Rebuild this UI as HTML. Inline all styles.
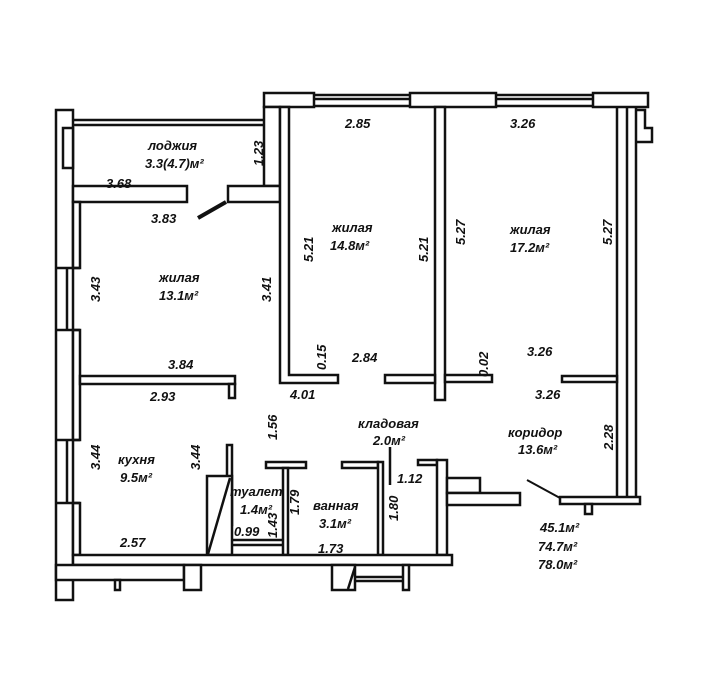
<!DOCTYPE html>
<html><head><meta charset="utf-8"><style>
html,body{margin:0;padding:0;background:#fff;}
svg{display:block}
text{font-family:"Liberation Sans",sans-serif;font-style:italic;font-size:13px;fill:#111;}
</style></head><body>
<svg width="720" height="689" viewBox="0 0 720 689" xmlns="http://www.w3.org/2000/svg">
<g fill="#fff" stroke="#111" stroke-width="2.5">
<!-- top wall right block -->
<rect x="264" y="93" width="50" height="14"/>
<rect x="410" y="93" width="86" height="14"/>
<rect x="593" y="93" width="55" height="14"/>
<line x1="314" y1="95" x2="410" y2="95"/><line x1="314" y1="99" x2="410" y2="99"/><line x1="314" y1="106" x2="410" y2="106"/>
<line x1="496" y1="95" x2="593" y2="95"/><line x1="496" y1="99" x2="593" y2="99"/><line x1="496" y1="106" x2="593" y2="106"/>
<!-- right exterior triple -->
<line x1="617" y1="107" x2="617" y2="497"/><line x1="627" y1="107" x2="627" y2="497"/><line x1="636" y1="107" x2="636" y2="497"/>
<polyline points="636,110 645,110 645,128 652,128 652,142 636,142" fill="none"/>
<!-- loggia -->
<rect x="56" y="110" width="17" height="490"/>
<line x1="73" y1="120" x2="264" y2="120"/><line x1="73" y1="125" x2="264" y2="125"/>
<rect x="63" y="128" width="10" height="40"/>
<rect x="264" y="107" width="16" height="79"/>
<rect x="73" y="186" width="114" height="16"/>
<rect x="228" y="186" width="52" height="16"/>
<!-- left room wall -->
<rect x="73" y="202" width="7" height="66"/>
<rect x="73" y="330" width="7" height="110"/>
<rect x="73" y="503" width="7" height="52"/>
<line x1="56" y1="268" x2="80" y2="268"/><line x1="56" y1="330" x2="80" y2="330"/>
<line x1="56" y1="440" x2="80" y2="440"/><line x1="56" y1="503" x2="80" y2="503"/>
<line x1="67" y1="268" x2="67" y2="330"/><line x1="67" y1="440" x2="67" y2="503"/>
<!-- interior walls -->
<polygon points="280,107 289,107 289,375 338,375 338,383 280,383"/>
<rect x="80" y="376" width="155" height="8"/>
<rect x="229" y="384" width="6" height="14"/>
<rect x="435" y="107" width="10" height="293"/>
<rect x="385" y="375" width="50" height="8"/>
<rect x="445" y="375" width="47" height="7"/>
<rect x="562" y="376" width="55" height="6"/>
<!-- corridor bottom -->
<rect x="560" y="497" width="80" height="7"/>
<rect x="585" y="504" width="7" height="10"/>
<!-- kitchen / toilet -->
<rect x="227" y="445" width="5" height="80"/>
<rect x="207" y="476" width="25" height="79"/>
<line x1="208" y1="554" x2="230" y2="478"/>
<rect x="266" y="462" width="40" height="6"/>
<rect x="283" y="468" width="5" height="87"/>
<line x1="232" y1="540" x2="283" y2="540"/><line x1="232" y1="545" x2="283" y2="545"/>
<rect x="342" y="462" width="36" height="6"/>
<rect x="378" y="462" width="5" height="93"/>
<rect x="418" y="460" width="19" height="5"/>
<rect x="437" y="460" width="10" height="95"/>
<line x1="390" y1="447" x2="390" y2="485"/>
<rect x="447" y="478" width="33" height="15"/>
<rect x="447" y="493" width="73" height="12"/>
<!-- bottom wall -->
<rect x="73" y="555" width="379" height="10"/>
<rect x="56" y="565" width="128" height="15"/>
<rect x="184" y="565" width="17" height="25"/>
<rect x="332" y="565" width="23" height="25"/>
<line x1="348" y1="589" x2="355" y2="567"/>
<rect x="115" y="580" width="5" height="10"/>
<line x1="355" y1="577" x2="403" y2="577"/><line x1="355" y1="581" x2="403" y2="581"/>
<rect x="403" y="565" width="6" height="25"/>
</g>
<g stroke="#111" stroke-width="4"><line x1="198" y1="218" x2="226" y2="202"/><line x1="527" y1="480" x2="560" y2="498" stroke-width="2"/></g>
<g font-weight="bold">
<text x="148" y="150">лоджия</text>
<text x="145" y="168">3.3(4.7)м²</text>
<text x="106" y="188">3.68</text>
<text x="151" y="223">3.83</text>
<text x="159" y="282">жилая</text>
<text x="159" y="300">13.1м²</text>
<text x="168" y="369">3.84</text>
<text x="150" y="401">2.93</text>
<text x="332" y="232">жилая</text>
<text x="330" y="250">14.8м²</text>
<text x="345" y="128">2.85</text>
<text x="510" y="128">3.26</text>
<text x="510" y="234">жилая</text>
<text x="510" y="252">17.2м²</text>
<text x="352" y="362">2.84</text>
<text x="290" y="399">4.01</text>
<text x="527" y="356">3.26</text>
<text x="535" y="399">3.26</text>
<text x="118" y="464">кухня</text>
<text x="120" y="482">9.5м²</text>
<text x="120" y="547">2.57</text>
<text x="230" y="496">туалет</text>
<text x="240" y="514">1.4м²</text>
<text x="234" y="536">0.99</text>
<text x="313" y="510">ванная</text>
<text x="319" y="528">3.1м²</text>
<text x="318" y="553">1.73</text>
<text x="358" y="428">кладовая</text>
<text x="373" y="445">2.0м²</text>
<text x="397" y="483">1.12</text>
<text x="508" y="437">коридор</text>
<text x="518" y="454">13.6м²</text>
<text x="540" y="532">45.1м²</text>
<text x="538" y="551">74.7м²</text>
<text x="538" y="569">78.0м²</text>
</g>
<g font-weight="bold">
<text transform="translate(263,166) rotate(-90)">1.23</text>
<text transform="translate(313,262) rotate(-90)">5.21</text>
<text transform="translate(428,262) rotate(-90)">5.21</text>
<text transform="translate(465,245) rotate(-90)">5.27</text>
<text transform="translate(612,245) rotate(-90)">5.27</text>
<text transform="translate(100,302) rotate(-90)">3.43</text>
<text transform="translate(271,302) rotate(-90)">3.41</text>
<text transform="translate(326,370) rotate(-90)">0.15</text>
<text transform="translate(488,377) rotate(-90)">0.02</text>
<text transform="translate(277,440) rotate(-90)">1.56</text>
<text transform="translate(100,470) rotate(-90)">3.44</text>
<text transform="translate(200,470) rotate(-90)">3.44</text>
<text transform="translate(299,515) rotate(-90)">1.79</text>
<text transform="translate(277,538) rotate(-90)">1.43</text>
<text transform="translate(398,521) rotate(-90)">1.80</text>
<text transform="translate(613,450) rotate(-90)">2.28</text>
</g>
</svg>
</body></html>
